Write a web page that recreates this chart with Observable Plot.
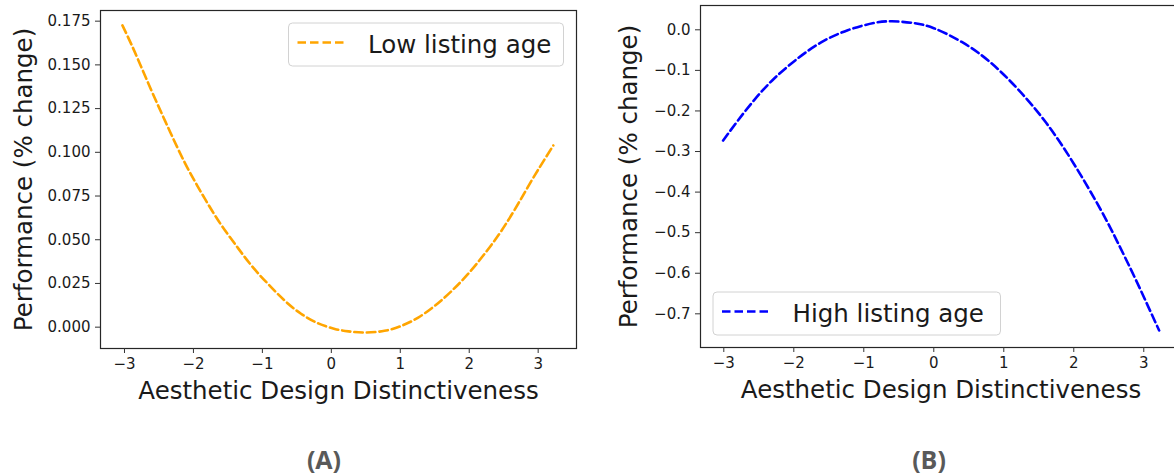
<!DOCTYPE html>
<html>
<head>
<meta charset="utf-8">
<script src="https://cdn.jsdelivr.net/npm/d3@7"></script>
<script src="https://cdn.jsdelivr.net/npm/@observablehq/plot@0.6"></script>
<style>
html, body { margin: 0; padding: 0; background: #fff; overflow: hidden; width: 1174px; height: 476px; }
#wrap { position: relative; width: 1174px; height: 476px; overflow: hidden; }
.panel { position: absolute; top: 0; }
.overlay { position: absolute; left: 0; top: 0; pointer-events: none; }
</style>
</head>
<body>
<div id="wrap"></div>
<script>
// ---- data ----
const xLabel = "Aesthetic Design Distinctiveness";
const yLabel = "Performance (% change)";
const xTicks = [-3, -2, -1, 0, 1, 2, 3];

const lowLabel = "Low listing age";
const lowX = [-3.03, -2.85, -2.61, -2.37, -2.13, -1.89, -1.64, -1.40, -1.16, -0.92, -0.68, -0.44, -0.19, 0.05, 0.25, 0.48, 0.77, 1.02, 1.26, 1.50, 1.74, 1.98, 2.22, 2.47, 2.71, 2.95, 3.22];
const lowY = [0.1726, 0.1573, 0.1354, 0.1144, 0.0944, 0.0772, 0.0610, 0.0477, 0.0353, 0.0248, 0.0153, 0.0077, 0.0022, -0.0010, -0.0024, -0.0031, -0.0021, 0.0008, 0.0055, 0.0122, 0.0205, 0.0303, 0.0418, 0.0553, 0.0706, 0.0868, 0.1039];
const lowYTicks = [0, 0.025, 0.05, 0.075, 0.1, 0.125, 0.15, 0.175];

const highLabel = "High listing age";
const highX = [-3.01, -2.80, -2.56, -2.28, -1.94, -1.61, -1.23, -0.85, -0.60, -0.30, 0.00, 0.40, 0.80, 1.20, 1.60, 2.00, 2.39, 2.63, 2.87, 3.10, 3.22];
const highY = [-0.273, -0.224, -0.172, -0.120, -0.070, -0.031, -0.001, 0.017, 0.021, 0.017, 0.004, -0.030, -0.079, -0.146, -0.228, -0.330, -0.445, -0.525, -0.610, -0.696, -0.741];
const highYTicks = [-0.7, -0.6, -0.5, -0.4, -0.3, -0.2, -0.1, 0.0];

const panelTags = ["(A)", "(B)"];

// ---- build ----
const wrap = document.getElementById("wrap");
const textColor = "#1a1a1a";
const labelSize = 24.5;
const tickSize = 15;

function panel({data, color, yTicks, yFormat, xDomain, yDomain, margins, yLabelDx}) {
  return Plot.plot({
    width: 600,
    height: 400,
    marginLeft: margins[0],
    marginRight: margins[1],
    marginTop: margins[2],
    marginBottom: margins[3],
    style: {fontFamily: "DejaVu Sans", fontSize: tickSize + "px", color: textColor, background: "transparent", overflow: "visible"},
    x: {domain: xDomain},
    y: {domain: yDomain},
    marks: [
      Plot.line(data, {x: "x", y: "y", stroke: color, strokeWidth: 2.6, strokeDasharray: "8.5,4", curve: "natural"}),
      Plot.frame({stroke: "#262626", strokeWidth: 1.2}),
      Plot.axisX({ticks: xTicks, tickSize: 5, tickPadding: 5, fontSize: tickSize, label: null, tickFormat: d3.format("d"), stroke: "#333"}),
      Plot.axisY({ticks: yTicks, tickSize: 5, tickPadding: 5, fontSize: tickSize, label: null, tickFormat: d3.format(yFormat), stroke: "#333"}),
      Plot.text([yLabel], {text: d => d, frameAnchor: "left", textAnchor: "middle", dx: yLabelDx, rotate: -90, fontSize: labelSize, lineAnchor: "middle", fill: textColor}),
      Plot.text([xLabel], {text: d => d, frameAnchor: "bottom", textAnchor: "middle", dy: 43, fontSize: labelSize, lineAnchor: "middle", fill: textColor})
    ]
  });
}

const lowData = lowX.map((x, i) => ({x, y: lowY[i]}));
const highData = highX.map((x, i) => ({x, y: highY[i]}));

const left = panel({
  data: lowData, color: "orange", yTicks: lowYTicks, yFormat: ".3f",
  xDomain: [-3.348, 3.556], yDomain: [-0.0122, 0.1811],
  margins: [100, 24, 10, 52], yLabelDx: -76
});
left.classList.add("panel");
left.style.left = "0px";
wrap.appendChild(left);

const right = panel({
  data: highData, color: "blue", yTicks: highYTicks, yFormat: ".1f",
  xDomain: [-3.333, 3.539], yDomain: [-0.783, 0.0599],
  margins: [100, 19, 5, 53], yLabelDx: -71
});
right.classList.add("panel");
right.style.left = "600px";
wrap.appendChild(right);

// ---- legends and panel tags (overlay) ----
const ns = "http://www.w3.org/2000/svg";
const ov = document.createElementNS(ns, "svg");
ov.setAttribute("class", "overlay");
ov.setAttribute("width", 1174);
ov.setAttribute("height", 476);
wrap.appendChild(ov);

function el(name, attrs, text) {
  const e = document.createElementNS(ns, name);
  for (const k in attrs) e.setAttribute(k, attrs[k]);
  if (text) e.textContent = text;
  ov.appendChild(e);
  return e;
}

function legend(x, y, w, color, label) {
  el("rect", {x: x + 0.5, y: y + 0.5, width: w, height: 43, rx: 4, fill: "white", "fill-opacity": 0.8, stroke: "#d2d2d2", "stroke-width": 1});
  el("line", {x1: x + 9.5, x2: x + 57, y1: y + 20, y2: y + 20, stroke: color, "stroke-width": 2.6, "stroke-dasharray": "8.5,4"});
  el("text", {x: x + 80, y: y + 30.5, "font-family": "DejaVu Sans", "font-size": labelSize, fill: textColor}, label);
}
legend(288, 22.5, 275, "orange", lowLabel);
legend(712.5, 291.5, 287.5, "blue", highLabel);

el("text", {x: 324, y: 469, "text-anchor": "middle", "font-family": "Open Sans", "font-weight": 700, "font-size": 25, fill: "#595959"}, panelTags[0]);
el("text", {x: 929, y: 469, "text-anchor": "middle", "font-family": "Open Sans", "font-weight": 700, "font-size": 25, fill: "#595959"}, panelTags[1]);
</script>
</body>
</html>
